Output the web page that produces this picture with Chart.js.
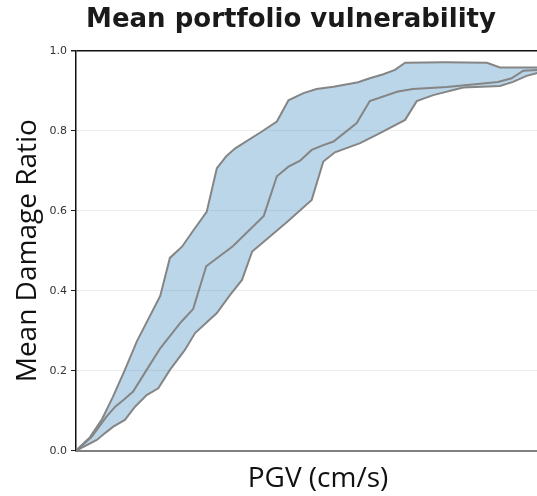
<!DOCTYPE html>
<html>
<head>
<meta charset="utf-8">
<script src="https://cdn.jsdelivr.net/npm/chart.js@4.4.1/dist/chart.umd.min.js"></script>
<style>
    html, body { margin: 0; padding: 0; background: #fff; overflow: hidden; }
    #wrap { width: 582px; height: 496px; }
</style>
</head>
<body>
<div id="wrap"><canvas id="myChart" width="582" height="496"></canvas></div>
<script>
// --- Dados (PGV em escala relativa 0-100) ---
const pgvUpper = [0, 2.9, 5.3, 7.6, 10.1, 12.6, 17.4, 19.4, 21.9, 24.2, 27.0, 29.1, 31.1, 32.9, 38.4, 41.5, 43.9, 47.0, 49.7, 53.2, 58.3, 60.7, 63.5, 65.9, 68.0, 76.2, 84.9, 87.6, 100];
const mdrUpper = [0, 0.034, 0.077, 0.134, 0.202, 0.274, 0.387, 0.482, 0.51, 0.55, 0.597, 0.706, 0.737, 0.756, 0.798, 0.823, 0.876, 0.894, 0.904, 0.91, 0.921, 0.931, 0.941, 0.952, 0.97, 0.971, 0.97, 0.958, 0.958];

const pgvMean = [0, 3.2, 6.3, 8.1, 9.8, 11.8, 14.6, 17.4, 21.8, 24.2, 26.9, 32.4, 38.8, 41.5, 43.9, 46.3, 48.7, 51.1, 53.2, 58.0, 60.7, 66.5, 69.6, 76.6, 87.2, 90.0, 92.4, 95.3, 100];
const mdrMean = [0, 0.034, 0.085, 0.11, 0.127, 0.148, 0.202, 0.256, 0.323, 0.354, 0.461, 0.511, 0.587, 0.686, 0.71, 0.725, 0.752, 0.764, 0.773, 0.819, 0.874, 0.898, 0.904, 0.909, 0.922, 0.931, 0.95, 0.952, 0.953];

const pgvLower = [0, 4.3, 6.0, 7.7, 10.1, 12.2, 14.6, 17.0, 19.4, 22.5, 24.6, 29.1, 31.8, 34.3, 36.4, 38.0, 43.6, 48.7, 51.1, 53.5, 58.7, 62.8, 68.0, 70.4, 73.8, 80.0, 87.6, 90.3, 93.1, 95.3, 100];
const mdrLower = [0, 0.027, 0.044, 0.06, 0.077, 0.11, 0.139, 0.156, 0.202, 0.252, 0.294, 0.344, 0.389, 0.427, 0.498, 0.514, 0.572, 0.627, 0.723, 0.746, 0.769, 0.794, 0.827, 0.874, 0.889, 0.908, 0.912, 0.922, 0.937, 0.944, 0.95];

const yTicks = [0, 0.2, 0.4, 0.6, 0.8, 1.0];

const toPoints = (xs, ys) => xs.map((x, i) => ({ x: x, y: ys[i] }));

const lineColor = '#858585';
const bandColor = 'rgba(31, 119, 180, 0.3)';

const ctx = document.getElementById('myChart').getContext('2d');
new Chart(ctx, {
    type: 'line',
    data: {
        datasets: [
            {
                label: 'Upper',
                data: toPoints(pgvUpper, mdrUpper),
                borderColor: lineColor,
                borderWidth: 2,
                backgroundColor: bandColor,
                fill: 2,
                pointRadius: 0,
                tension: 0
            },
            {
                label: 'Mean',
                data: toPoints(pgvMean, mdrMean),
                borderColor: lineColor,
                borderWidth: 2,
                fill: false,
                pointRadius: 0,
                tension: 0
            },
            {
                label: 'Lower',
                data: toPoints(pgvLower, mdrLower),
                borderColor: lineColor,
                borderWidth: 2,
                fill: false,
                pointRadius: 0,
                tension: 0
            }
        ]
    },
    options: {
        responsive: false,
        animation: false,
        layout: { padding: { left: 22, right: 22, top: 0, bottom: 0 } },
        plugins: {
            legend: { display: false },
            tooltip: { enabled: false },
            filler: { drawTime: 'beforeDatasetsDraw' },
            title: {
                display: true,
                text: 'Mean portfolio vulnerability',
                color: '#1a1a1a',
                font: { family: "'DejaVu Sans'", weight: 'bold', size: 26 },
                padding: { top: 5, bottom: 14.5 }
            }
        },
        scales: {
            x: {
                type: 'linear',
                min: 0,
                max: 100,
                grid: { display: false },
                border: { color: '#808080', width: 2 },
                ticks: { display: false },
                afterFit: (scale) => { scale.height = 45.3; },
                title: {
                    display: true,
                    text: 'PGV (cm/s)',
                    color: '#111',
                    font: { family: 'Open Sans', size: 28 },
                    padding: { top: 0, bottom: 0 }
                }
            },
            y: {
                min: 0,
                max: 1,
                afterBuildTicks: (scale) => {
                    scale.ticks = yTicks.map(v => ({ value: v }));
                },
                afterFit: (scale) => { scale.width = 54; },
                grid: {
                    color: (c) => (c.tick && c.tick.value === 1 ? '#111' : '#ececec'),
                    lineWidth: (c) => (c.tick && c.tick.value === 1 ? 1.5 : 1),
                    tickColor: '#222',
                    tickLength: 5
                },
                border: { color: '#111', width: 1.5 },
                ticks: {
                    color: '#333',
                    padding: 4,
                    font: { family: 'DejaVu Sans', size: 11 },
                    callback: (v) => v.toFixed(1)
                },
                title: {
                    display: true,
                    text: 'Mean Damage Ratio',
                    color: '#111',
                    font: { family: 'Open Sans', size: 28 },
                    padding: { top: -11, bottom: 0 }
                }
            }
        }
    }
});
</script>
</body>
</html>
